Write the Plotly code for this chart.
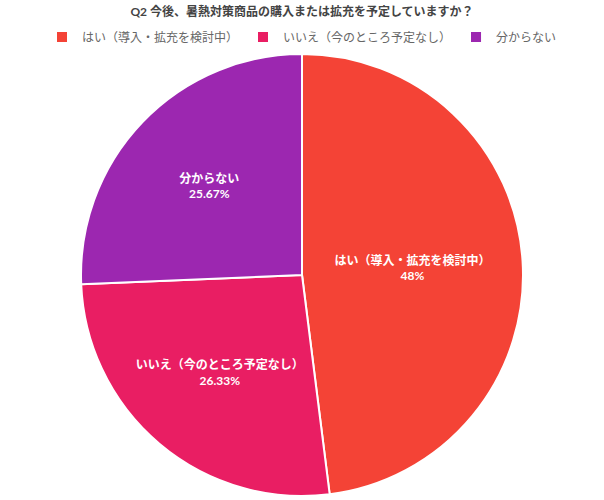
import plotly.graph_objects as go

# Survey answers (n=300)
labels = ['はい（導入・拡充を検討中）', 'いいえ（今のところ予定なし）', '分からない']
counts = [144, 79, 77]
colors = ['#F44336', '#E91E63', '#9C27B0']

title_text = 'Q2 今後、暑熱対策商品の購入または拡充を予定していますか？'

W, H = 604, 500

fig = go.Figure(go.Pie(
    labels=labels,
    values=counts,
    sort=False,
    direction='clockwise',
    rotation=0,
    domain=dict(x=[0, 1], y=[4 / H, 1 - 54 / H]),
    marker=dict(colors=colors, line=dict(color='white', width=2)),
    textposition='inside',
    insidetextorientation='horizontal',
    texttemplate='<b>%{label}<br>%{percent:.2~%}</b>',
    textfont=dict(color='white', size=12),
))

fig.update_layout(
    width=W,
    height=H,
    margin=dict(t=0, b=0, l=0, r=0),
    paper_bgcolor='white',
    font=dict(family="Lato, 'Noto Sans CJK JP', sans-serif", size=12, color='#666'),
    title=dict(
        text='<b>' + title_text + '</b>',
        x=0.5, xref='container', xanchor='center',
        y=1 - 12 / H, yref='container', yanchor='middle',
        font=dict(size=12, color='#444'),
    ),
    legend=dict(
        orientation='h',
        x=0.5, xanchor='center',
        y=1 - 37 / H, yanchor='middle',
        font=dict(size=12, color='#666'),
        traceorder='normal',
    ),
)

# drop the default 8px body margin so the figure sits at the page corner
fig.write_html('out.html', config={'displayModeBar': False},
               post_script="document.body.style.margin='0';")
